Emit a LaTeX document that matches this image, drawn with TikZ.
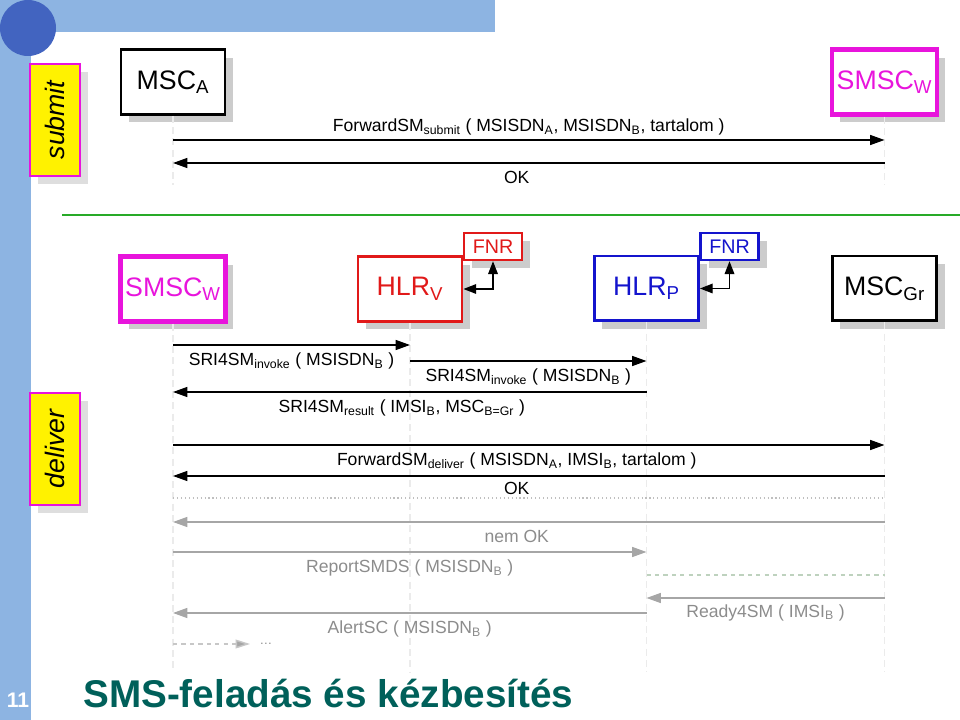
\documentclass[tikz,border=0pt]{standalone}
\usepackage{fontspec}
\setmainfont{Liberation Sans}
\usetikzlibrary{arrows.meta, positioning, shadows}

\definecolor{barblue}{RGB}{141,180,226}
\definecolor{dotblue}{RGB}{66,100,192}
\definecolor{smscpink}{RGB}{232,20,220}
\definecolor{hlrred}{RGB}{225,25,25}
\definecolor{hlrblue}{RGB}{20,20,205}
\definecolor{titleteal}{RGB}{0,96,90}
\definecolor{sepgreen}{RGB}{40,170,40}
\definecolor{waitgreen}{RGB}{190,210,190}

\begin{document}
\begin{tikzpicture}[x=0.025cm, y=-0.025cm,
  entity/.style={rectangle, draw=#1, text=#1, fill=white, line width=2pt, minimum width=2.6cm, minimum height=1.62cm, font=\fontsize{19}{22}\selectfont, drop shadow={shadow xshift=0.2cm, shadow yshift=-0.2cm, fill=black!20, opacity=1}},
  entity/.default=black,
  fnr/.style={entity=#1, line width=1.6pt, minimum width=1.45cm, minimum height=0.68cm, inner sep=1pt, font=\fontsize{14}{16}\selectfont},
  phase/.style={rectangle, draw=smscpink, fill=yellow, line width=1.5pt, minimum width=1.25cm, minimum height=2.8cm, font=\fontsize{19}{21}\selectfont\itshape, drop shadow={shadow xshift=0.2cm, shadow yshift=-0.2cm, fill=black!13, opacity=1}},
  msg/.style={-{Triangle[length=0.36cm,width=0.25cm]}, line width=1pt},
  late/.style={msg, draw=black!35},
  lbl/.style={font=\fontsize{12.5}{15}\selectfont, inner sep=1pt},
  latelbl/.style={lbl, text=black!45},
  lifeline/.style={draw=black!8, dash pattern=on 5pt off 3pt, line width=0.8pt}
]
\useasboundingbox (0,0) rectangle (960,720);

% Slide frame
\fill[barblue] (0,0) rectangle (495,32);
\fill[barblue] (0,0) rectangle (31,720);
\fill[dotblue] (28,28) circle (28);
\node[anchor=base, text=white, inner sep=0, font=\fontsize{15}{17}\selectfont\bfseries] (pageno) at (18,707) {11};
\node[anchor=base west, text=titleteal, inner sep=0, font=\fontsize{27.5}{30}\selectfont\bfseries] (title) at (83,707) {SMS-feladás és kézbesítés};

% Phases
\node[phase] (submit) at (55,120) {\rotatebox{90}{submit}};
\node[phase] (deliver) at (55,449) {\rotatebox{90}{deliver}};

% Submit entities
\node[entity] (mscA) at (173,82) {MSC\textsubscript{A}};
\node[entity=smscpink, line width=3.2pt] (smscA) at (884.5,82) {SMSC\textsubscript{W}};

\coordinate (topend) at (0,185);
\draw[lifeline] (mscA.south) -- (mscA |- topend);
\draw[lifeline] (smscA.south) -- (smscA |- topend);

\coordinate (t1) at (0,140);
\coordinate (t2) at (0,163);
\draw[msg] (mscA |- t1) -- (smscA |- t1) node[lbl, midway, above=2pt] {ForwardSM\textsubscript{submit} ( MSISDN\textsubscript{A}, MSISDN\textsubscript{B}, tartalom )};
\draw[msg] (smscA |- t2) -- (mscA |- t2) node[lbl, midway, below=4pt, xshift=-0.3cm] {OK};

% Separator
\draw[sepgreen, line width=1.2pt] (62,215) -- (960,215);

% Deliver entities
\node[entity=smscpink, line width=3.2pt] (smscB) at (173,289) {SMSC\textsubscript{W}};
\node[entity=hlrred] (hlrV) at (410,289) {HLR\textsubscript{V}};
\node[fnr=hlrred] (fnrV) at (493,246.5) {FNR};
\node[entity=hlrblue] (hlrP) at (646.5,288.5) {HLR\textsubscript{P}};
\node[fnr=hlrblue] (fnrP) at (729.5,246.5) {FNR};
\node[entity] (mscGr) at (884.5,288.5) {MSC\textsubscript{Gr}};

\draw[{Triangle[length=0.32cm,width=0.24cm]}-{Triangle[length=0.32cm,width=0.24cm]}, line width=1pt] (fnrV.south) |- (hlrV.east);
\draw[{Triangle[length=0.32cm,width=0.24cm]}-{Triangle[length=0.32cm,width=0.24cm]}, line width=1pt] (fnrP.south) |- (hlrP.east);

\coordinate (end) at (0,672);
\foreach \n in {smscB,hlrV,hlrP,mscGr}
  \draw[lifeline] (\n.south) -- (\n |- end);

% Routing info
\coordinate (d1) at (0,345);
\coordinate (d2) at (0,361);
\coordinate (d3) at (0,392);
\draw[msg] (smscB |- d1) -- (hlrV |- d1) node[lbl, midway, below=4pt] {SRI4SM\textsubscript{invoke} ( MSISDN\textsubscript{B} )};
\draw[msg] (hlrV |- d2) -- (hlrP |- d2) node[lbl, midway, below=4pt] {SRI4SM\textsubscript{invoke} ( MSISDN\textsubscript{B} )};
\draw[msg] (hlrP |- d3) -- (smscB |- d3) node[lbl, midway, below=4pt, xshift=-0.2cm] {SRI4SM\textsubscript{result} ( IMSI\textsubscript{B}, MSC\textsubscript{B=Gr} )};

% Delivery
\coordinate (d4) at (0,445);
\coordinate (d5) at (0,476);
\coordinate (d6) at (0,498);
\draw[msg] (smscB |- d4) -- (mscGr |- d4) node[lbl, midway, below=4pt, xshift=-0.3cm] {ForwardSM\textsubscript{deliver} ( MSISDN\textsubscript{A}, IMSI\textsubscript{B}, tartalom )};
\draw[msg] (mscGr |- d5) -- (smscB |- d5) node[lbl, midway, below=3pt, xshift=-0.3cm] {OK};
\draw[black!25, dotted, line width=0.8pt] (smscB |- d6) -- (mscGr |- d6);

% Failed delivery
\coordinate (d7) at (0,522);
\coordinate (d8) at (0,552);
\coordinate (d9) at (0,575);
\coordinate (d10) at (0,598);
\coordinate (d11) at (0,613);
\coordinate (d12) at (0,644);
\draw[late] (mscGr |- d7) -- (smscB |- d7) node[latelbl, midway, below=4pt, xshift=-0.3cm] {nem OK};
\draw[late] (smscB |- d8) -- (hlrP |- d8) node[latelbl, midway, below=4pt] {ReportSMDS ( MSISDN\textsubscript{B} )};
\draw[waitgreen, dashed, line width=0.8pt] (hlrP |- d9) -- (mscGr |- d9);
\draw[late] (mscGr |- d10) -- (hlrP |- d10) node[latelbl, midway, below=3pt] {Ready4SM ( IMSI\textsubscript{B} )};
\draw[late] (hlrP |- d11) -- (smscB |- d11) node[latelbl, midway, below=4pt] {AlertSC ( MSISDN\textsubscript{B} )};
\coordinate (etc) at (250,644);
\draw[late, draw=black!22, dashed, -{Triangle[length=0.36cm,width=0.22cm, fill=black!35]}] (smscB |- d12) -- (etc);
\node[latelbl, font=\fontsize{9}{10}\selectfont, right=0.2cm of etc] (dots) {\dots};
\end{tikzpicture}
\end{document}
